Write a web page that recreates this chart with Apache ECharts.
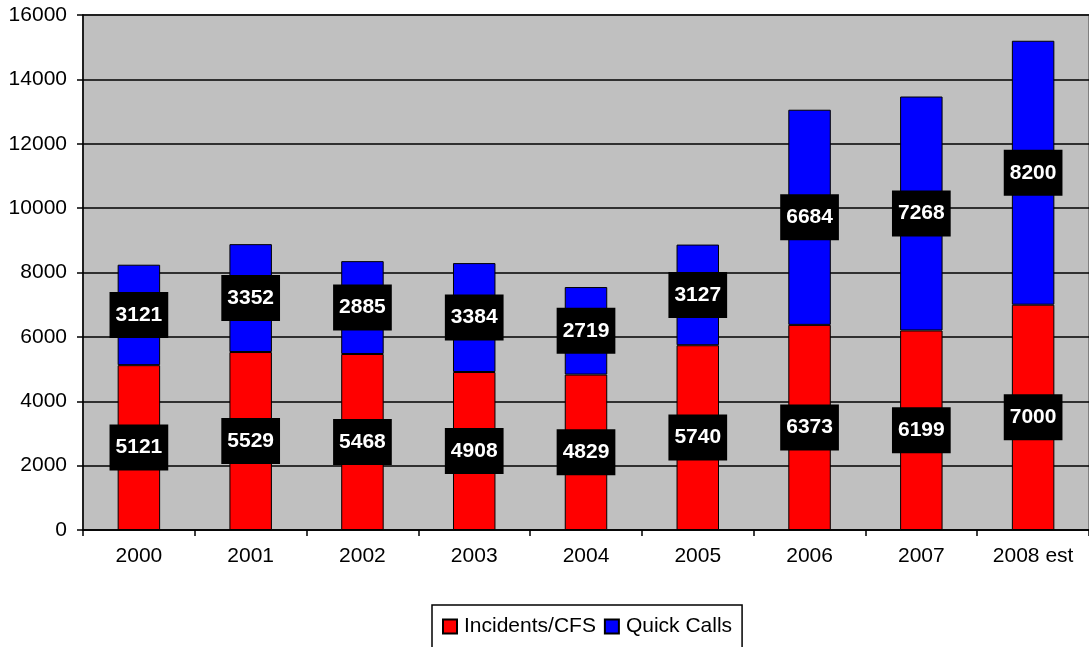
<!DOCTYPE html>
<html>
<head>
<meta charset="utf-8">
<script src="https://cdn.jsdelivr.net/npm/echarts@6/dist/echarts.min.js"></script>
<style>
  html, body { margin: 0; padding: 0; background: #fff; overflow: hidden; }
  #chart { width: 1089px; height: 647px; }
</style>
</head>
<body>
<div id="chart"></div>
<script>
const years = ['2000', '2001', '2002', '2003', '2004', '2005', '2006', '2007', '2008 est']
const incidents = [5121, 5529, 5468, 4908, 4829, 5740, 6373, 6199, 7000]
const quickCalls = [3121, 3352, 2885, 3384, 2719, 3127, 6684, 7268, 8200]

const font = 'Liberation Sans, Arial, sans-serif'

const labelOption = {
  show: true,
  position: 'inside',
  backgroundColor: '#000',
  color: '#fff',
  fontFamily: font,
  fontWeight: 'bold',
  fontSize: 21,
  lineHeight: 21,
  padding: [10, 6, 15, 6]
}

const chart = echarts.init(document.getElementById('chart'))
chart.setOption({
  animation: false,
  textStyle: { fontFamily: font },
  grid: {
    left: 83,
    width: 1015,
    top: 15,
    bottom: 117,
    show: true,
    backgroundColor: '#C0C0C0',
    borderColor: '#808080',
    borderWidth: 2
  },
  legend: {
    top: 605,
    left: 432,
    data: ['Incidents/CFS', 'Quick Calls'],
    icon: 'rect',
    itemWidth: 14,
    itemHeight: 14,
    itemGap: 8,
    borderColor: '#000',
    borderWidth: 1.5,
    padding: [11, 10, 20, 10],
    textStyle: { fontSize: 21, color: '#000', fontFamily: font, padding: [0, 0, 0, 2] }
  },
  xAxis: {
    type: 'category',
    data: years,
    axisLine: { lineStyle: { color: '#000', width: 1.5 } },
    axisTick: { show: true, length: 6, lineStyle: { color: '#000', width: 1.5 } },
    axisLabel: { color: '#000', fontSize: 21, margin: 16, fontFamily: font }
  },
  yAxis: {
    type: 'value',
    min: 0,
    max: 16000,
    interval: 2000,
    axisLine: { show: true, lineStyle: { color: '#000', width: 1.5 } },
    axisTick: { show: true, length: 6, lineStyle: { color: '#000', width: 1.5 } },
    axisLabel: { color: '#000', fontSize: 21, margin: 16, fontFamily: font, formatter: v => String(v) },
    splitLine: { lineStyle: { color: '#000', width: 1.5 } }
  },
  series: [
    {
      name: 'Incidents/CFS',
      type: 'bar',
      stack: 'total',
      barWidth: '38%',
      itemStyle: { color: '#FF0000', borderColor: '#000', borderWidth: 1 },
      label: labelOption,
      data: incidents
    },
    {
      name: 'Quick Calls',
      type: 'bar',
      stack: 'total',
      barWidth: '38%',
      itemStyle: { color: '#0000FF', borderColor: '#000', borderWidth: 1 },
      label: labelOption,
      data: quickCalls
    }
  ]
})
</script>
</body>
</html>
